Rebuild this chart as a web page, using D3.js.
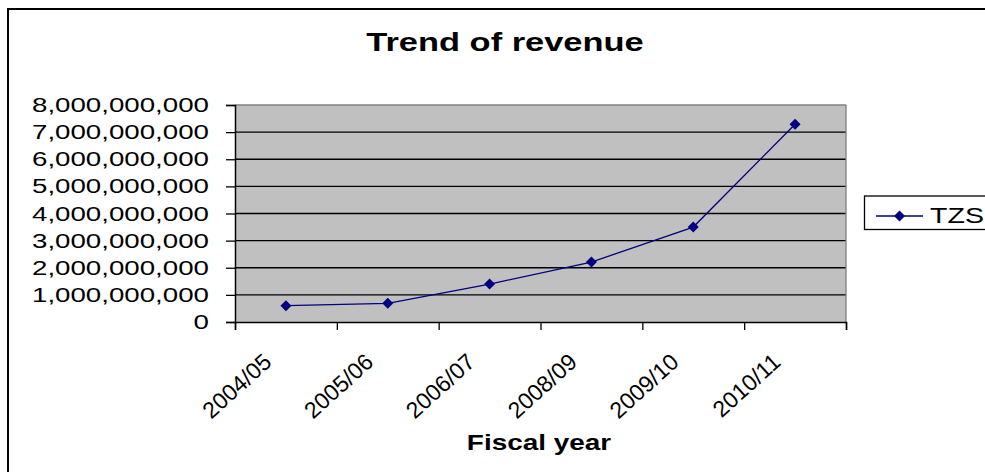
<!DOCTYPE html>
<html><head><meta charset="utf-8">
<script src="https://cdn.jsdelivr.net/npm/d3@7"></script>
<style>
html,body{margin:0;padding:0;background:#fff;overflow:hidden;}
svg{display:block;}
text{font-family:"Liberation Sans",Arial,sans-serif;fill:#000;}
</style></head>
<body>
<svg id="chart" width="985" height="472"></svg>
<script>
const categories = ["2004/05","2005/06","2006/07","2008/09","2009/10","2010/11"];
const revenueTZS = [600000000, 690000000, 1400000000, 2210000000, 3500000000, 7290000000];
const yTicks = [0,1000000000,2000000000,3000000000,4000000000,5000000000,6000000000,7000000000,8000000000];
const seriesName = "TZS";
const titleText = "Trend of revenue";
const xTitle = "Fiscal year";

const SX = 1.35;
const svg = d3.select("#chart");
const L = 235, R = 846, T = 105, B = 322;

// outer frame
svg.append("rect").attr("x",8).attr("y",9).attr("width",1100).attr("height",600)
  .attr("fill","#fff").attr("stroke","#000").attr("stroke-width",2);

const y = d3.scaleLinear().domain([0,8000000000]).range([B,T]);
const x = d3.scaleBand().domain(categories).range([L,R]).padding(0);
const xb = d3.scaleLinear().domain([0,categories.length]).range([L,R]);

// plot background
svg.append("rect").attr("x",L).attr("y",T).attr("width",R-L).attr("height",B-T)
  .attr("fill","#c0c0c0").attr("stroke","none");

// gridlines
svg.append("g").selectAll("line").data(yTicks.filter(d=>d>0)).join("line")
  .attr("x1",L).attr("x2",R).attr("y1",d=>y(d)).attr("y2",d=>y(d))
  .attr("stroke",d=>d===8000000000?"#808080":"#000").attr("stroke-width",1.3);
// right border
svg.append("line").attr("x1",R).attr("x2",R).attr("y1",T).attr("y2",B)
  .attr("stroke","#808080").attr("stroke-width",1.3);

// y axis
const yAxis = svg.append("g").attr("transform",`translate(${L},0)`)
  .call(d3.axisLeft(y).tickValues(yTicks).tickFormat(d3.format(",")).tickSize(9).tickPadding(10.3));
yAxis.select(".domain").attr("stroke","#000").attr("stroke-width",1.5);
yAxis.selectAll(".tick line").attr("stroke","#000").attr("stroke-width",1.3);
yAxis.selectAll(".tick text").attr("font-size","20.5px").attr("fill","#000")
  .attr("transform",`scale(${SX},1)`).attr("x",-19.3);

// x axis (ticks at boundaries)
const xAxis = svg.append("g").attr("transform",`translate(0,${B})`)
  .call(d3.axisBottom(xb).tickValues(d3.range(categories.length+1)).tickFormat("").tickSize(8));
xAxis.select(".domain").attr("stroke","#000").attr("stroke-width",1.5);
xAxis.selectAll(".tick line").attr("stroke","#000").attr("stroke-width",1.3);

// x labels
svg.append("g").selectAll("text").data(categories).join("text")
  .attr("transform",d=>`translate(${x(d)+x.bandwidth()/2-13},364) rotate(-42)`)
  .attr("text-anchor","end").attr("font-size","23px").text(d=>d);

// line
const line = d3.line().x((d,i)=>x(categories[i])+x.bandwidth()/2).y(d=>y(d));
svg.append("path").datum(revenueTZS).attr("d",line)
  .attr("fill","none").attr("stroke","#000080").attr("stroke-width",1.3);
const diamond = "M0,-5.5L5.5,0L0,5.5L-5.5,0Z";
svg.append("g").selectAll("path").data(revenueTZS).join("path")
  .attr("transform",(d,i)=>`translate(${x(categories[i])+x.bandwidth()/2},${y(d)})`)
  .attr("d",diamond).attr("fill","#000080");

// title
svg.append("text").attr("transform",`translate(505,51) scale(${SX},1)`)
  .attr("text-anchor","middle").attr("font-size","25.5px").attr("font-weight","bold").text(titleText);
// x title
svg.append("text").attr("transform",`translate(539,450) scale(1.27,1)`)
  .attr("text-anchor","middle").attr("font-size","22px").attr("font-weight","bold").text(xTitle);

// legend
const lg = svg.append("g");
lg.append("rect").attr("x",864.5).attr("y",196).attr("width",140).attr("height",33.5)
  .attr("fill","#fff").attr("stroke","#000").attr("stroke-width",1.3);
lg.append("line").attr("x1",876).attr("x2",923).attr("y1",216).attr("y2",216)
  .attr("stroke","#000080").attr("stroke-width",1.3);
lg.append("path").attr("transform","translate(899.5,216)").attr("d",diamond).attr("fill","#000080");
lg.append("text").attr("transform",`translate(930,222.5) scale(1.3,1)`)
  .attr("font-size","22px").text(seriesName);
</script>
</body></html>
